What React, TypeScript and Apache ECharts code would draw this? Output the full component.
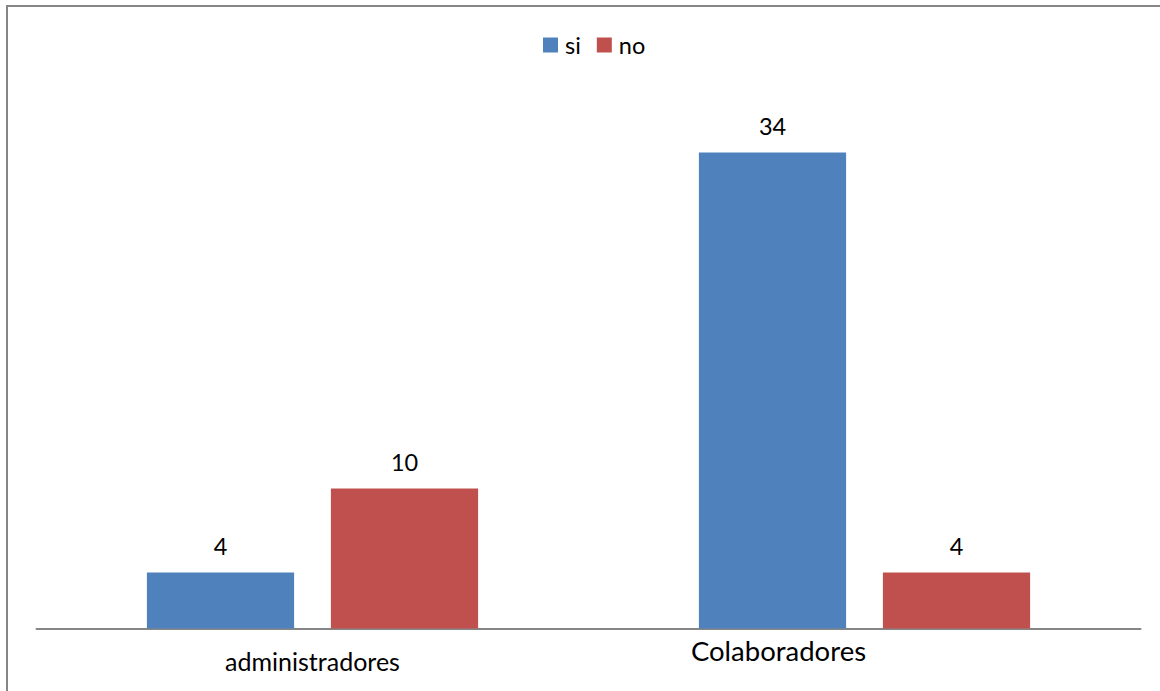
import React, { useEffect, useRef } from "react";
import * as echarts from "echarts";

const categories = ["administradores", "Colaboradores"];
const siValues = [4, 34];
const noValues = [10, 4];
const seriesNames = ["si", "no"];

export default function App() {
  const ref = useRef<HTMLDivElement>(null);
  useEffect(() => {
    if (!ref.current) return;
    const chart = echarts.init(ref.current, undefined, { renderer: "svg" });
    const font = "Lato";
    const label = {
      show: true,
      position: "top" as const,
      distance: 15,
      color: "#000",
      fontFamily: font,
      fontSize: 23.5,
    };
    chart.setOption({
      animation: false,
      textStyle: { fontFamily: font },
      graphic: [
        {
          type: "rect",
          shape: { x: 7, y: 6, width: 1300, height: 900 },
          style: { fill: "none", stroke: "#868686", lineWidth: 2 },
          silent: true,
        },
      ],
      legend: {
        data: seriesNames,
        top: 28,
        left: 538,
        icon: "rect",
        itemWidth: 15,
        itemHeight: 15,
        itemGap: 16,
        textStyle: { fontFamily: font, fontSize: 23.5, color: "#000", padding: [0, 0, 0, 2] },
      },
      grid: { left: 36.5, right: 19.5, top: 68.5, bottom: 62.5, containLabel: false },
      xAxis: {
        type: "category",
        data: categories,
        axisLine: { lineStyle: { color: "#868686", width: 2 } },
        axisTick: { show: false },
        axisLabel: {
          margin: 8,
          formatter: (v: string, i: number) => (i === 0 ? `{a|${v}}` : `{b|${v}}`),
          rich: {
            a: { fontFamily: font, fontSize: 25, color: "#000", padding: [12, 0, 0, 0] },
            b: { fontFamily: font, fontSize: 27.5, color: "#000", padding: [0, 172, 0, 0] },
          },
        },
      },
      yAxis: {
        type: "value",
        min: 0,
        max: 40,
        show: false,
        splitLine: { show: false },
      },
      series: [
        {
          name: seriesNames[0],
          type: "bar",
          data: siValues,
          barGap: "25%",
          barCategoryGap: "40%",
          itemStyle: { color: "#4F81BD" },
          label,
        },
        {
          name: seriesNames[1],
          type: "bar",
          data: noValues,
          itemStyle: { color: "#C0504D" },
          label,
        },
      ],
    });
    return () => chart.dispose();
  }, []);
  return (
    <div
      ref={ref}
      style={{ position: "absolute", left: 0, top: 0, width: 1160, height: 691, background: "#fff" }}
    />
  );
}
